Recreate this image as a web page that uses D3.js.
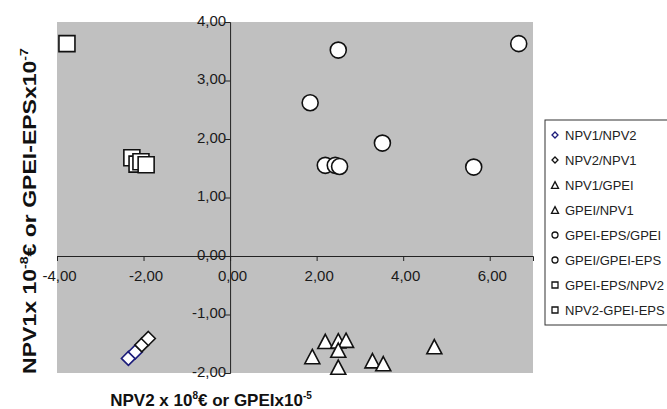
<!DOCTYPE html>
<html>
<head>
<meta charset="utf-8">
<script src="https://cdn.jsdelivr.net/npm/d3@7"></script>
<style>
  body { margin: 0; background: #fff; }
  svg { display: block; font-family: "Liberation Sans", Arial, sans-serif; }
</style>
</head>
<body>
<main></main>
<script>
// data
const seriesNames = ['NPV1/NPV2', 'NPV2/NPV1', 'NPV1/GPEI', 'GPEI/NPV1',
    'GPEI-EPS/GPEI', 'GPEI/GPEI-EPS', 'GPEI-EPS/NPV2', 'NPV2-GPEI-EPS'];
const seriesShapes = ['diamond', 'diamond', 'triangle', 'triangle', 'circle', 'circle', 'square', 'square'];
const seriesStroke = ['#1c1c7a', '#111', '#111', '#111', '#111', '#111', '#111', '#111'];

const npv1Npv2 = [[-2.35, -1.75], [-2.19, -1.64]];
const npv2Npv1 = [[-2.04, -1.52], [-1.89, -1.41]];
const npv1Gpei = [[1.9, -1.72], [2.2, -1.46], [2.5, -1.45], [2.68, -1.44]];
const gpeiNpv1 = [[2.5, -1.61], [2.5, -1.9], [3.29, -1.79], [3.54, -1.84], [4.72, -1.55]];
const gpeiEpsGpei = [[2.5, 3.52], [1.85, 2.62], [6.67, 3.63], [3.52, 1.93]];
const gpeiGpeiEps = [[5.63, 1.52], [2.2, 1.55], [2.43, 1.55], [2.53, 1.53]];
const gpeiEpsNpv2 = [[-3.77, 3.63], [-2.27, 1.68], [-2.15, 1.57]];
const npv2GpeiEps = [[-2.06, 1.61], [-1.94, 1.56]];
const seriesData = [npv1Npv2, npv2Npv1, npv1Gpei, gpeiNpv1, gpeiEpsGpei, gpeiGpeiEps, gpeiEpsNpv2, npv2GpeiEps];

const xTicks = [-4, -2, 0, 2, 4, 6];
const yTicks = [-2, -1, 0, 1, 2, 3, 4];

const w = 667, h = 409;
const pLeft = 57, pRight = 533, pTop = 22, pBottom = 373;
const svg = d3.select('main').append('svg').attr('width', w).attr('height', h);

const x = d3.scaleLinear().domain([-4, 7]).range([pLeft, pRight]);
const y = d3.scaleLinear().domain([-2, 4]).range([pBottom, pTop]);
const fmt = d => d.toFixed(2).replace('.', ',');

svg.append('rect')
    .attr('x', pLeft).attr('y', pTop)
    .attr('width', pRight - pLeft).attr('height', pBottom - pTop)
    .attr('fill', '#c0c0c0');

const xAxis = svg.append('g')
    .attr('transform', `translate(0, ${y(0)})`)
    .call(d3.axisBottom(x).tickValues(xTicks).tickFormat(fmt).tickSizeOuter(0).tickSize(5));
const yAxis = svg.append('g')
    .attr('transform', `translate(${x(0)}, 0)`)
    .call(d3.axisLeft(y).tickValues(yTicks).tickFormat(fmt).tickSizeOuter(0).tickSize(5));
[xAxis, yAxis].forEach(a => {
    a.select('.domain').attr('stroke', '#222');
    a.selectAll('.tick line').attr('stroke', '#222');
    a.selectAll('.tick text')
        .attr('font-family', '"Liberation Sans", Arial, sans-serif')
        .attr('font-size', 15).attr('fill', '#1a1a1a');
});
xAxis.selectAll('.tick text').attr('dy', '1.1em').attr('dx', 2);
yAxis.selectAll('.tick text').attr('x', -4).attr('dy', '0.2em');

function shapePath(shape, s) {
    if (shape === 'circle') return d3.symbol(d3.symbolCircle, s * s * Math.PI / 4)();
    if (shape === 'square') return d3.symbol(d3.symbolSquare, s * s)();
    if (shape === 'triangle') {
        const hh = s * 0.95;
        return `M0,${-hh / 2}L${s / 2},${hh / 2}L${-s / 2},${hh / 2}Z`;
    }
    const r = s / 2;
    return `M0,${-r}L${r},0L0,${r}L${-r},0Z`;
}
const plotSizes = {circle: 16, square: 16, triangle: 15, diamond: 14};

seriesData.forEach((pts, i) => {
    const shape = seriesShapes[i];
    svg.append('g').selectAll('path').data(pts).enter().append('path')
        .attr('d', shapePath(shape, plotSizes[shape]))
        .attr('transform', d => `translate(${x(d[0])}, ${y(d[1])})`)
        .attr('fill', '#fff')
        .attr('stroke', seriesStroke[i])
        .attr('stroke-width', 1.6);
});

// axis titles
const xt = svg.append('text')
    .attr('x', 211).attr('y', 406)
    .attr('text-anchor', 'middle')
    .attr('font-size', 17).attr('font-weight', 'bold').attr('fill', '#111');
xt.append('tspan').text('NPV2 x 10');
xt.append('tspan').attr('font-size', 10).attr('dy', -7).text('8');
xt.append('tspan').attr('dy', 7).text('€ or GPEIx10');
xt.append('tspan').attr('font-size', 10).attr('dy', -7).text('-5');

const yt = svg.append('text')
    .attr('transform', 'translate(36, 211) rotate(-90) scale(1.28, 1)')
    .attr('text-anchor', 'middle')
    .attr('font-size', 18).attr('font-weight', 'bold').attr('fill', '#111');
yt.append('tspan').text('NPV1x 10');
yt.append('tspan').attr('font-size', 11).attr('dy', -8).text('-8');
yt.append('tspan').attr('dy', 8).text('€ or GPEI-EPSx10');
yt.append('tspan').attr('font-size', 11).attr('dy', -8).text('-7');

// legend
const lg = svg.append('g').attr('transform', 'translate(545, 120)');
lg.append('rect').attr('width', 130).attr('height', 205)
    .attr('fill', '#fff').attr('stroke', '#333').attr('stroke-width', 1);
const legendSizes = {circle: 6, square: 6, triangle: 7, diamond: 6};
seriesNames.forEach((name, i) => {
    const row = lg.append('g').attr('transform', `translate(0, ${15 + i * 25})`);
    row.append('path')
        .attr('d', shapePath(seriesShapes[i], legendSizes[seriesShapes[i]]))
        .attr('transform', 'translate(10, 0)')
        .attr('fill', '#fff').attr('stroke', seriesStroke[i]).attr('stroke-width', 1.3);
    row.append('text').attr('x', 20).attr('dy', '0.36em')
        .attr('font-size', 13).attr('fill', '#222').text(name);
});
</script>
</body>
</html>
